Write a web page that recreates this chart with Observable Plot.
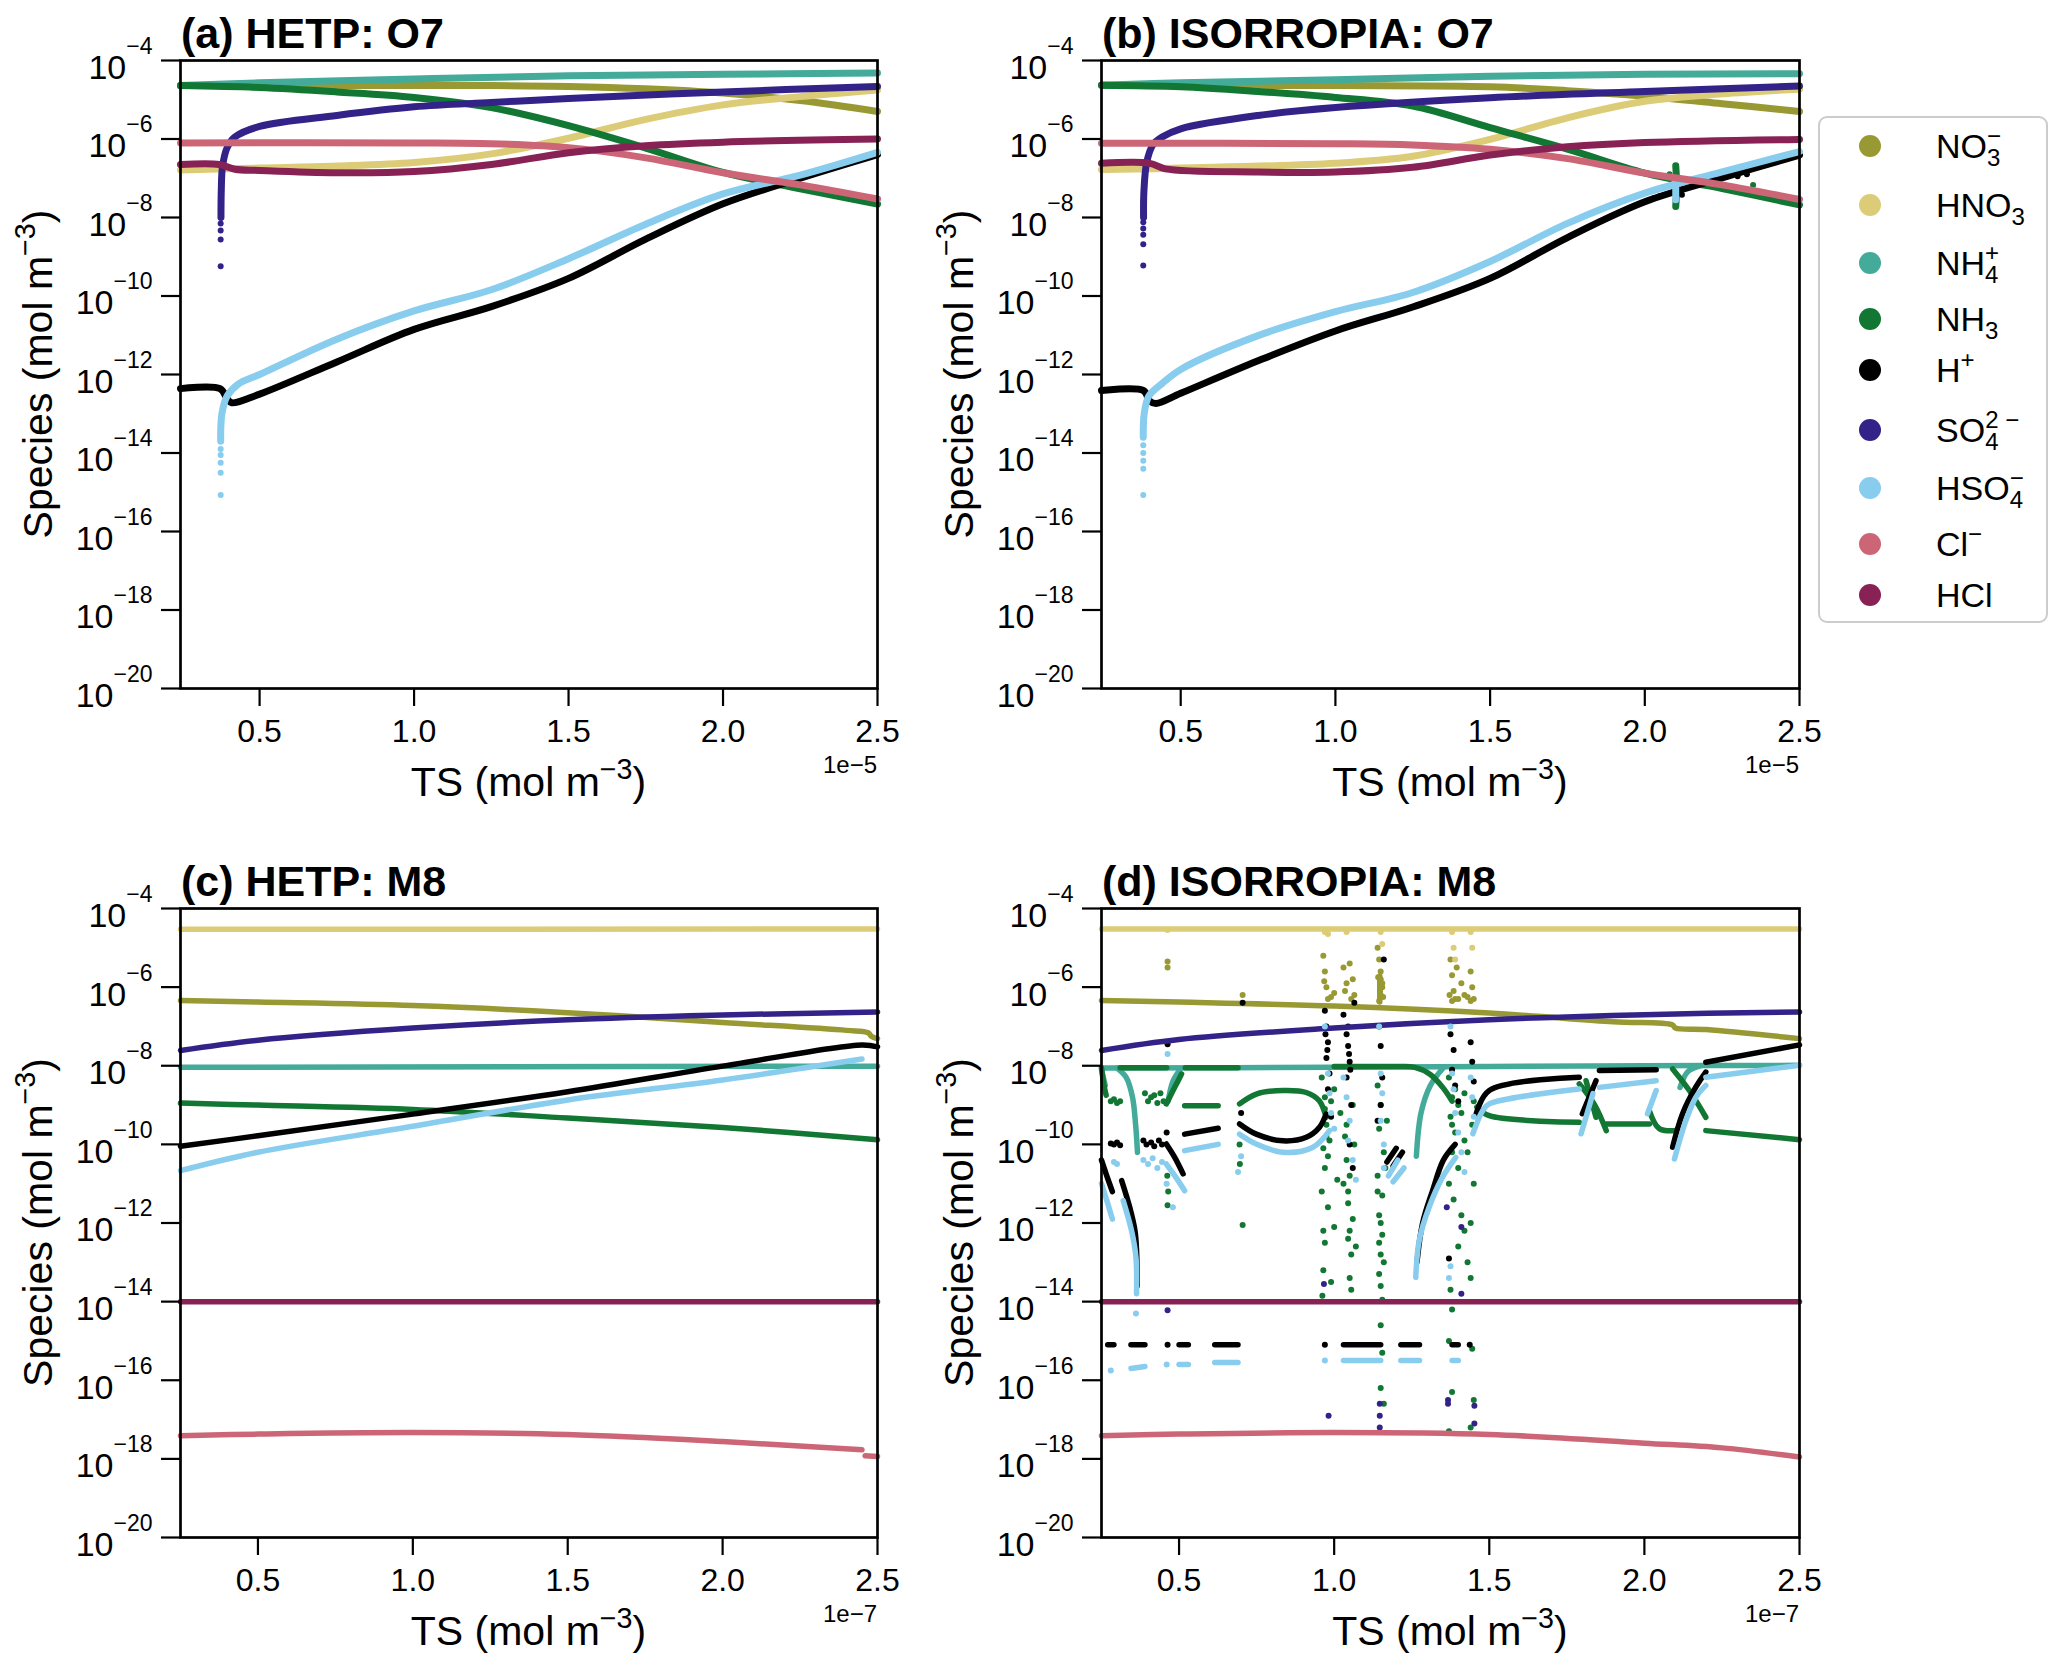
<!DOCTYPE html>
<html>
<head>
<meta charset="utf-8">
<script src="https://cdn.jsdelivr.net/npm/d3@7"></script>
<script src="https://cdn.jsdelivr.net/npm/@observablehq/plot@0.6"></script>
<style>
  body { margin: 0; background: #fff; }
  #fig { position: relative; width: 2067px; height: 1668px; font-family: "Liberation Sans", Arial, sans-serif; }
  #fig svg { position: absolute; overflow: visible; }
</style>
</head>
<body>
<div id="fig"></div>
<script>
// species, legend order = drawing order
const SPECIES = ["NO3", "HNO3", "NH4", "NH3", "H", "SO4", "HSO4", "Cl", "HCl"];
const COLORS = {NO3: "#999933", HNO3: "#ddcc77", NH4: "#44aa99", NH3: "#117733", H: "#000000",
                SO4: "#332288", HSO4: "#88ccee", Cl: "#cc6677", HCl: "#882255"};
// legend labels: [base, subscript, superscript]
const LABELS = [["NO", "3", "−"], ["HNO", "3", ""], ["NH", "4", "+"], ["NH", "3", ""], ["H", "", "+"],
                ["SO", "4", "2 −"], ["HSO", "4", "−"], ["Cl", "", "−"], ["HCl", "", ""]];
const xTicks = [0.5, 1.0, 1.5, 2.0, 2.5];
const yTicks = [-20, -18, -16, -14, -12, -10, -8, -6, -4];

// values are [TS, log10(species)]; each species is a list of segments
const a_lines = {
  NO3: [[[0.244,-4.64],[0.75,-4.64],[1.25,-4.64],[1.5,-4.66],[1.75,-4.72],[2.0,-4.83],[2.25,-5.02],[2.5,-5.3]]],
  HNO3: [[[0.244,-6.79],[0.5,-6.74],[0.75,-6.69],[1.0,-6.6],[1.25,-6.38],[1.5,-5.98],[1.75,-5.5],[2.0,-5.13],[2.25,-4.92],[2.5,-4.75]]],
  NH4: [[[0.244,-4.64],[0.5,-4.57],[1.0,-4.47],[1.5,-4.39],[2.0,-4.35],[2.5,-4.32]]],
  NH3: [[[0.244,-4.64],[0.5,-4.69],[0.75,-4.8],[1.0,-4.94],[1.25,-5.2],[1.5,-5.66],[1.75,-6.23],[2.0,-6.85],[2.25,-7.27],[2.5,-7.66]]],
  H: [[[0.244,-12.36],[0.372,-12.36],[0.395,-12.62],[0.41,-12.72],[0.5,-12.5],[0.75,-11.68],[1.0,-10.85],[1.25,-10.27],[1.5,-9.55],[1.75,-8.55],[2.0,-7.65],[2.25,-7.0],[2.5,-6.4]]],
  SO4: [[[0.375,-8.0],[0.376,-7.3],[0.38,-6.7],[0.395,-6.22],[0.42,-5.95],[0.5,-5.68],[0.75,-5.4],[1.0,-5.18],[1.25,-5.07],[1.5,-4.97],[2.0,-4.8],[2.5,-4.66]]],
  HSO4: [[[0.374,-13.7],[0.378,-13.0],[0.395,-12.55],[0.43,-12.25],[0.5,-12.0],[0.75,-11.1],[1.0,-10.38],[1.25,-9.84],[1.5,-9.05],[1.75,-8.17],[2.0,-7.4],[2.25,-6.92],[2.5,-6.34]]],
  Cl: [[[0.244,-6.1],[1.0,-6.1],[1.25,-6.12],[1.5,-6.22],[1.75,-6.48],[2.0,-6.86],[2.25,-7.17],[2.5,-7.53]]],
  HCl: [[[0.244,-6.65],[0.37,-6.65],[0.42,-6.77],[0.5,-6.8],[0.75,-6.86],[1.0,-6.83],[1.25,-6.65],[1.5,-6.35],[1.75,-6.17],[2.0,-6.08],[2.5,-6.0]]]
};
const a_dots = {
  SO4: [[0.374,-8.15],[0.374,-8.33],[0.374,-8.56],[0.374,-9.24]],
  HSO4: [[0.374,-13.9],[0.374,-14.05],[0.374,-14.25],[0.374,-14.5],[0.374,-15.07]]
};

const b_lines = {
  NO3: [[[0.244,-4.63],[1.0,-4.64],[1.5,-4.67],[1.75,-4.77],[2.0,-4.91],[2.25,-5.1],[2.5,-5.3]]],
  HNO3: [[[0.244,-6.78],[0.5,-6.74],[1.0,-6.62],[1.25,-6.44],[1.5,-6.01],[1.75,-5.46],[2.0,-5.04],[2.25,-4.85],[2.5,-4.73]]],
  NH4: [[[0.244,-4.63],[0.5,-4.57],[1.0,-4.49],[1.5,-4.4],[2.0,-4.35],[2.5,-4.34]]],
  NH3: [[[0.244,-4.63],[0.5,-4.67],[0.75,-4.79],[1.0,-4.94],[1.25,-5.16],[1.5,-5.71],[1.75,-6.26],[2.0,-6.87],[2.25,-7.26],[2.5,-7.68]],
        [[2.1,-6.68],[2.103,-7.2],[2.1,-7.72]]],
  H: [[[0.244,-12.41],[0.38,-12.41],[0.40,-12.68],[0.42,-12.74],[0.5,-12.48],[0.75,-11.65],[1.0,-10.89],[1.25,-10.28],[1.5,-9.55],[1.75,-8.51],[2.0,-7.6],[2.25,-6.99],[2.5,-6.41]]],
  SO4: [[[0.38,-8.0],[0.381,-7.35],[0.39,-6.6],[0.41,-6.15],[0.44,-5.95],[0.5,-5.74],[0.75,-5.4],[1.0,-5.2],[1.5,-4.95],[2.0,-4.79],[2.5,-4.65]]],
  HSO4: [[[0.379,-13.6],[0.382,-13.0],[0.397,-12.55],[0.44,-12.23],[0.5,-11.87],[0.75,-11.01],[1.0,-10.4],[1.25,-9.91],[1.5,-9.12],[1.75,-8.15],[2.0,-7.38],[2.25,-6.84],[2.5,-6.32]],
         [[2.1,-7.05],[2.1,-7.55]]],
  Cl: [[[0.244,-6.11],[1.0,-6.12],[1.25,-6.15],[1.5,-6.26],[1.75,-6.5],[2.0,-6.87],[2.25,-7.17],[2.5,-7.54]]],
  HCl: [[[0.244,-6.62],[0.40,-6.62],[0.45,-6.76],[0.75,-6.84],[1.0,-6.84],[1.25,-6.72],[1.5,-6.41],[1.75,-6.2],[2.0,-6.09],[2.5,-6.01]]]
};
const b_dots = {
  NH3: [[2.35,-7.17],[2.08,-6.9]],
  H: [[2.03,-7.5],[2.05,-7.45],[2.1,-7.55],[2.12,-7.42],[2.3,-6.95],[2.33,-6.9]],
  SO4: [[0.379,-8.12],[0.379,-8.28],[0.379,-8.44],[0.379,-8.68],[0.379,-9.22]],
  HSO4: [[0.379,-13.8],[0.379,-14.0],[0.379,-14.2],[0.379,-14.4],[0.379,-15.07]]
};

const c_lines = {
  NO3: [[[0.25,-6.34],[0.5,-6.38],[1.0,-6.47],[1.5,-6.65],[2.0,-6.9],[2.4,-7.1],[2.47,-7.16],[2.48,-7.25],[2.5,-7.31]]],
  HNO3: [[[0.25,-4.53],[2.5,-4.52]]],
  NH4: [[[0.25,-8.04],[2.5,-8.01]]],
  NH3: [[[0.25,-8.95],[0.5,-9.0],[1.0,-9.11],[1.5,-9.33],[2.0,-9.57],[2.5,-9.88]]],
  H: [[[0.25,-10.05],[0.5,-9.78],[1.0,-9.23],[1.5,-8.66],[2.0,-8.01],[2.45,-7.47],[2.5,-7.52]]],
  SO4: [[[0.25,-7.61],[0.5,-7.35],[1.0,-7.04],[1.5,-6.83],[2.0,-6.71],[2.5,-6.63]]],
  HSO4: [[[0.25,-10.67],[0.5,-10.2],[1.0,-9.54],[1.5,-8.87],[2.0,-8.36],[2.45,-7.83]]],
  Cl: [[[0.25,-17.41],[0.5,-17.37],[1.0,-17.33],[1.5,-17.38],[2.0,-17.56],[2.45,-17.77]],[[2.46,-17.92],[2.5,-17.94]]],
  HCl: [[[0.25,-14.0],[2.5,-14.0]]]
};
const c_dots = {};

const d_lines = {
  NO3: [[[0.25,-6.34],[0.5,-6.38],[1.0,-6.48],[1.5,-6.66],[1.9,-6.88],[2.09,-6.96],[2.1,-7.04],[2.2,-7.08],[2.5,-7.31]],
        [[1.147,-5.72],[1.147,-6.38]]],
  HNO3: [[[0.25,-4.52],[2.5,-4.52]]],
  NH4: [[[0.25,-8.06],[1.0,-8.04],[1.5,-8.02],[2.0,-8.0],[2.5,-7.99]],
        [[0.25,-8.1],[0.262,-8.5]],
        [[0.30,-8.06],[0.33,-8.3],[0.35,-8.8],[0.36,-9.5],[0.366,-10.2]],
        [[0.505,-8.08],[0.48,-8.4],[0.465,-8.9]],
        [[1.352,-8.05],[1.31,-8.5],[1.28,-9.2],[1.265,-10.3]],
        [[2.18,-8.0],[2.14,-8.15],[2.115,-8.55]]],
  NH3: [[[0.25,-8.05],[0.258,-8.5],[0.265,-8.75]],
        [[0.31,-8.05],[0.46,-8.05]],
        [[0.508,-8.21],[0.486,-8.55],[0.459,-8.97]],
        [[0.518,-9.02],[0.626,-9.02]],
        [[0.52,-8.05],[0.69,-8.05]],
        [[0.695,-8.97],[0.749,-8.72],[0.835,-8.63],[0.91,-8.68],[0.952,-8.89],[0.974,-9.31]],
        [[1.0,-8.02],[1.2,-8.02],[1.26,-8.04],[1.31,-8.22],[1.35,-8.55],[1.38,-8.9]],
        [[1.46,-9.05],[1.5,-9.27],[1.79,-9.44]],
        [[1.79,-8.46],[1.84,-9.0],[1.877,-9.65]],
        [[1.812,-8.38],[1.844,-9.31]],
        [[1.877,-9.48],[2.016,-9.48]],
        [[2.016,-9.14],[2.048,-9.6],[2.102,-9.65]],
        [[2.091,-8.08],[2.145,-8.63],[2.198,-9.31]],
        [[2.198,-9.65],[2.5,-9.88]]],
  H: [[[0.25,-10.4],[0.267,-10.8],[0.285,-11.2]],
      [[0.315,-10.92],[0.341,-11.6],[0.358,-12.2],[0.363,-12.7],[0.365,-13.6]],
      [[0.459,-9.99],[0.486,-10.33],[0.513,-10.75]],
      [[0.518,-9.74],[0.626,-9.59]],
      [[0.695,-9.48],[0.749,-9.74],[0.835,-9.91],[0.91,-9.82],[0.952,-9.57],[0.974,-9.23]],
      [[1.17,-10.45],[1.2,-10.1]],
      [[1.19,-10.55],[1.22,-10.2]],
      [[1.267,-13.0],[1.285,-12.0],[1.317,-11.18],[1.352,-10.4],[1.39,-10.0]],
      [[1.458,-9.22],[1.5,-8.63],[1.79,-8.29]],
      [[1.80,-9.22],[1.844,-8.38]],
      [[1.855,-8.12],[2.038,-8.1]],
      [[2.091,-10.07],[2.123,-9.22],[2.166,-8.54],[2.198,-8.16]],
      [[2.198,-7.91],[2.5,-7.47]],
      [[0.27,-15.1],[0.29,-15.1]], [[0.345,-15.1],[0.39,-15.1]], [[0.5,-15.1],[0.53,-15.1]],
      [[0.615,-15.1],[0.69,-15.1]], [[1.03,-15.1],[1.15,-15.1]], [[1.215,-15.1],[1.275,-15.1]],
      [[1.38,-15.1],[1.40,-15.1]]],
  SO4: [[[0.25,-7.61],[0.5,-7.33],[1.0,-7.04],[1.5,-6.83],[2.0,-6.7],[2.5,-6.63]]],
  HSO4: [[[0.25,-11.0],[0.27,-11.5],[0.285,-11.9]],
         [[0.32,-11.43],[0.347,-12.2],[0.361,-12.87],[0.363,-13.8]],
         [[0.459,-10.5],[0.49,-10.84],[0.518,-11.18]],
         [[0.518,-10.16],[0.626,-10.0]],
         [[0.695,-9.74],[0.749,-9.99],[0.835,-10.2],[0.93,-10.08],[0.985,-9.65]],
         [[1.175,-10.8],[1.205,-10.4]],
         [[1.19,-10.95],[1.225,-10.6]],
         [[1.263,-13.38],[1.274,-12.45],[1.306,-11.6],[1.349,-10.84],[1.392,-10.33]],
         [[1.447,-9.73],[1.479,-9.14],[1.5,-8.97],[1.79,-8.59]],
         [[1.796,-9.73],[1.834,-8.71]],
         [[1.855,-8.55],[2.038,-8.38]],
         [[2.01,-9.22],[2.038,-8.63]],
         [[2.097,-10.37],[2.134,-9.39],[2.166,-8.8],[2.198,-8.5]],
         [[2.198,-8.29],[2.5,-7.99]],
         [[0.345,-15.7],[0.39,-15.65]], [[0.5,-15.6],[0.53,-15.6]], [[0.615,-15.55],[0.69,-15.55]],
         [[1.03,-15.5],[1.15,-15.5]], [[1.215,-15.5],[1.275,-15.5]], [[1.38,-15.5],[1.40,-15.5]]],
  Cl: [[[0.25,-17.41],[0.5,-17.37],[1.0,-17.33],[1.5,-17.38],[2.0,-17.6],[2.25,-17.72],[2.5,-17.95]]],
  HCl: [[[0.25,-14.0],[2.5,-14.0]]]
};
const d_dots = {
  NO3: [[0.463,-5.35],[0.463,-5.5],[0.705,-6.2],[0.965,-5.2],[0.97,-5.6],[0.975,-6.0],[0.98,-6.3],[1.0,-6.15],
        [0.968,-5.85],[0.99,-6.25],[1.035,-6.1],[1.055,-6.3],
        [1.03,-5.5],[1.04,-5.9],[1.05,-5.4],[1.06,-5.8],[1.065,-6.2],[1.14,-5.0],[1.145,-5.3],[1.15,-5.6],
        [1.15,-5.8],[1.155,-6.0],[1.15,-6.2],[1.145,-6.35],[1.155,-5.9],[1.148,-6.1],[1.142,-5.75],[1.158,-6.25],
        [1.375,-5.3],[1.38,-5.7],[1.385,-6.1],[1.39,-6.3],[1.41,-5.9],[1.42,-6.2],[1.44,-5.6],[1.445,-6.0],[1.45,-6.3],
        [1.372,-6.2],[1.38,-6.35],[1.4,-6.3],[1.43,-6.25],[1.395,-5.5],[1.44,-6.35]],
  HNO3: [[0.463,-4.55],[0.97,-4.6],[0.98,-4.65],[1.04,-4.6],[1.15,-4.6],[1.155,-4.9],[1.38,-4.6],
         [1.385,-5.0],[1.39,-5.3],[1.44,-4.6],[1.445,-5.0]],
  NH3: [[0.28,-8.9],[0.29,-8.85],[0.3,-8.95],[0.31,-8.9],[0.39,-8.7],[0.4,-8.9],[0.41,-8.8],[0.42,-8.75],
        [0.43,-8.95],[0.44,-8.7],[0.45,-8.9],[0.462,-10.8],[0.465,-11.2],[0.463,-11.55],[0.705,-12.05],
        [0.695,-10.0],[0.696,-10.5],
        [0.96,-8.3],[0.97,-8.8],[0.975,-9.5],[0.965,-10.1],[0.97,-10.6],[0.96,-11.2],[0.98,-11.6],[0.965,-12.2],
        [0.97,-12.5],[0.965,-13.2],[0.962,-13.85],[0.99,-13.5],[1.0,-8.6],[1.02,-9.2],[1.035,-9.8],[1.04,-10.4],
        [1.03,-11.0],[1.045,-11.5],[1.05,-12.2],[1.055,-12.8],[1.05,-13.4],[1.06,-9.0],[1.065,-10.0],[1.06,-11.9],
        [1.07,-12.6],[1.045,-12.4],[1.01,-10.9],[1.0,-12.1],[0.985,-9.9],[1.055,-13.7],
        [0.97,-9.1],[0.975,-9.8],[0.98,-10.3],[1.04,-9.5],[1.05,-10.8],[1.045,-11.2],[0.99,-8.9],
        [1.14,-8.5],[1.15,-9.0],[1.145,-9.6],[1.16,-10.2],[1.14,-10.8],[1.155,-11.3],[1.145,-11.8],[1.15,-12.0],
        [1.155,-12.3],[1.145,-12.5],[1.15,-12.8],[1.16,-13.0],[1.145,-13.3],[1.15,-13.6],[1.155,-13.95],[1.15,-14.6],
        [1.155,-15.3],[1.15,-16.2],[1.16,-16.6],[1.17,-9.4],[1.165,-10.6],[1.14,-11.2],
        [1.37,-8.3],[1.38,-8.8],[1.375,-9.3],[1.39,-9.7],[1.38,-10.2],[1.4,-10.6],[1.37,-11.0],[1.385,-11.4],
        [1.41,-11.8],[1.42,-12.2],[1.4,-12.6],[1.43,-13.0],[1.44,-13.4],[1.375,-13.7],[1.38,-14.2],[1.37,-15.0],
        [1.38,-16.3],[1.445,-15.2],[1.45,-16.5],[1.44,-12.0],[1.45,-11.0],[1.43,-10.2],[1.445,-9.5],[1.41,-9.2],
        [1.42,-9.9],[1.37,-17.3],[1.44,-17.2],[1.45,-8.9],[1.39,-8.6],[1.4,-9.0],[1.38,-9.5],[1.42,-8.7]],
  H: [[0.463,-7.45],[0.46,-9.7],[0.705,-6.4],[0.70,-9.2],[0.463,-15.1],[0.97,-15.1],[1.437,-15.1],
      [0.28,-9.98],[0.29,-10.0],[0.3,-9.95],[0.31,-10.02],[0.385,-9.9],[0.395,-10.0],[0.41,-9.95],[0.42,-10.05],
      [0.435,-9.9],[0.445,-10.0],
      [0.97,-6.6],[0.975,-7.0],[0.98,-7.4],[0.975,-7.8],[0.985,-8.2],[0.98,-8.6],[0.99,-9.3],[1.03,-6.7],
      [1.04,-7.2],[1.045,-7.5],[1.05,-7.9],[1.04,-8.3],[1.055,-9.0],[1.05,-10.0],[1.06,-10.6],[1.065,-6.4],
      [0.972,-7.2],[0.978,-7.6],[1.045,-7.0],[1.048,-7.7],[1.052,-8.1],
      [1.145,-7.0],[1.15,-7.5],[1.155,-8.3],[1.15,-9.0],[1.14,-9.4],[1.16,-5.3],
      [1.375,-7.2],[1.385,-7.6],[1.38,-8.1],[1.39,-8.5],[1.4,-8.9],[1.44,-7.4],[1.445,-7.9],[1.45,-8.4],[1.37,-12.9]],
  SO4: [[0.463,-14.22],[0.982,-16.9],[1.147,-16.6],[1.147,-16.9],[1.147,-17.2],[1.367,-16.5],[1.367,-16.6],
        [1.41,-12.1],[1.41,-13.8],[1.452,-16.65],[1.452,-17.1],[0.967,-13.55],[1.363,-11.6]],
  HSO4: [[0.463,-7.7],[0.46,-11.0],[0.48,-11.6],[0.7,-10.3],[0.69,-10.7],[0.361,-14.3],[0.28,-15.75],[0.46,-15.6],[0.97,-15.5],
         [0.29,-10.45],[0.3,-10.5],[0.385,-10.4],[0.4,-10.5],[0.415,-10.35],[0.43,-10.6],[0.445,-10.45],
         [0.97,-7.0],[0.98,-8.2],[0.985,-8.7],[0.99,-9.2],[1.0,-9.6],[1.03,-8.3],[1.04,-8.8],[1.05,-9.4],
         [1.045,-9.9],[1.06,-10.4],[1.07,-10.9],[1.145,-7.0],[1.15,-8.2],[1.155,-8.7],[1.15,-9.4],[1.16,-10.0],
         [1.16,-10.6],[1.375,-7.0],[1.38,-8.2],[1.385,-8.6],[1.39,-9.2],[1.40,-9.7],[1.41,-10.2],[1.42,-10.7],
         [1.44,-8.3],[1.445,-8.8],[1.45,-9.3],[1.375,-13.1],[1.37,-13.4]]
};

const fig = d3.select("#fig");

function supText(sel, main, sup, size) {
  sel.append("tspan").text(main);
  sel.append("tspan").attr("dy", -size * 0.42).attr("font-size", size * 0.7).text(sup);
  sel.append("tspan").attr("dy", size * 0.42).text(")");
}

function drawPanel(p) {
  const rows = [];
  SPECIES.forEach(s => (p.lines[s] || []).forEach((seg, i) =>
    seg.forEach(([x, e]) => rows.push({s, z: s + i, x, y: 10 ** e}))));
  const marks = [];
  SPECIES.forEach(s => {
    marks.push(Plot.line(rows.filter(r => r.s === s), {
      x: "x", y: "y", z: "z", stroke: COLORS[s], strokeWidth: p.sw,
      curve: "catmull-rom", strokeLinecap: "round", strokeLinejoin: "round"
    }));
    if (p.dots[s]) marks.push(Plot.dot(p.dots[s], {x: d => d[0], y: d => 10 ** d[1], r: 3, fill: COLORS[s]}));
  });
  marks.push(
    Plot.axisX({ticks: xTicks, tickSize: 18, tickPadding: 13, fontSize: 32, strokeWidth: 2.2,
                tickFormat: d3.format(".1f"), label: null}),
    Plot.axisY({ticks: yTicks.map(e => 10 ** e), tickSize: 19, tickPadding: 9, fontSize: 34, strokeWidth: 2.2,
                tickFormat: d => String(Math.round(Math.log10(d))), label: null}),
    Plot.frame({stroke: "black", strokeWidth: 2.7})
  );
  const W = 900, H = 834;
  const chart = Plot.plot({
    width: W, height: H,
    marginLeft: p.mL, marginRight: p.mR, marginTop: 60, marginBottom: p.mB,
    x: {domain: [p.x0, 2.5]},
    y: {type: "log", domain: [1e-20, 1e-4]},
    style: {fontFamily: "Liberation Sans, Arial, sans-serif", fontSize: "30px", color: "black", background: "transparent", overflow: "visible"},
    marks
  });
  const svg = d3.select(chart).style("left", p.left + "px").style("top", p.top + "px");

  // 10 with a raised exponent (Plot already puts the label at y = 0.32em)
  svg.selectAll('g[aria-label="y-axis tick label"] text').each(function () {
    const e = this.textContent.replace("-", "−");
    const t = d3.select(this).attr("dy", 7.5).text("10");
    t.append("tspan").attr("dy", -25).attr("font-size", 23).text(e);
  });

  const bottom = H - p.mB;
  const cx = p.mL + (W - p.mL - p.mR) / 2;
  svg.append("text").attr("x", p.mL + 1).attr("y", 48).attr("text-anchor", "start")
    .attr("font-size", 43).attr("font-weight", "bold").attr("fill", "black").text(p.title);
  const xl = svg.append("text").attr("x", cx).attr("y", bottom + 108)
    .attr("text-anchor", "middle").attr("font-size", 41).attr("fill", "black");
  supText(xl, "TS (mol m", "−3", 41);
  const yl = svg.append("text").attr("transform", `translate(${p.mL - 128},${60 + (bottom - 60) / 2}) rotate(-90)`)
    .attr("text-anchor", "middle").attr("font-size", 41).attr("fill", "black");
  supText(yl, "Species (mol m", "−3", 41);
  svg.append("text").attr("x", W - p.mR).attr("y", bottom + 85)
    .attr("text-anchor", "end").attr("font-size", 24).attr("fill", "black").text(p.offset);

  fig.append(() => chart);
}

drawPanel({lines: a_lines, dots: a_dots, title: "(a) HETP: O7", offset: "1e−5", x0: 0.244, sw: 7,
           left: 0, top: 0, mL: 180, mR: 23, mB: 146});
drawPanel({lines: b_lines, dots: b_dots, title: "(b) ISORROPIA: O7", offset: "1e−5", x0: 0.244, sw: 7,
           left: 920, top: 0, mL: 181, mR: 21, mB: 146});
drawPanel({lines: c_lines, dots: c_dots, title: "(c) HETP: M8", offset: "1e−7", x0: 0.25, sw: 5.5,
           left: 0, top: 848, mL: 180, mR: 23, mB: 145});
drawPanel({lines: d_lines, dots: d_dots, title: "(d) ISORROPIA: M8", offset: "1e−7", x0: 0.25, sw: 5.5,
           left: 920, top: 848, mL: 181, mR: 21, mB: 145});

// legend
const rowsY = [146, 205, 263, 319, 370, 430, 488, 544, 595];
const leg = fig.append("svg").style("left", "1800px").style("top", "100px")
  .attr("width", 267).attr("height", 540);
leg.append("rect").attr("x", 19).attr("y", 17).attr("width", 228).attr("height", 505).attr("rx", 8)
  .attr("fill", "white").attr("stroke", "#cccccc").attr("stroke-width", 2);
SPECIES.forEach((s, i) => {
  const cy = rowsY[i] - 100;
  const [base, sub, sup] = LABELS[i];
  leg.append("circle").attr("cx", 70).attr("cy", cy).attr("r", 11).attr("fill", COLORS[s]);
  const t = leg.append("text").attr("x", 136).attr("y", cy + 12).attr("font-size", 34).attr("fill", "black")
    .style("font-family", "Liberation Sans, Arial, sans-serif");
  t.append("tspan").text(base);
  let subW = 0;
  if (sub) {
    const ts = t.append("tspan").attr("dy", 8).attr("font-size", 24).text(sub);
    subW = ts.node().getComputedTextLength();
  }
  if (sup) t.append("tspan").attr("dx", -subW).attr("dy", sub ? -22 : -14).attr("font-size", 24).text(sup);
});
</script>
</body>
</html>
